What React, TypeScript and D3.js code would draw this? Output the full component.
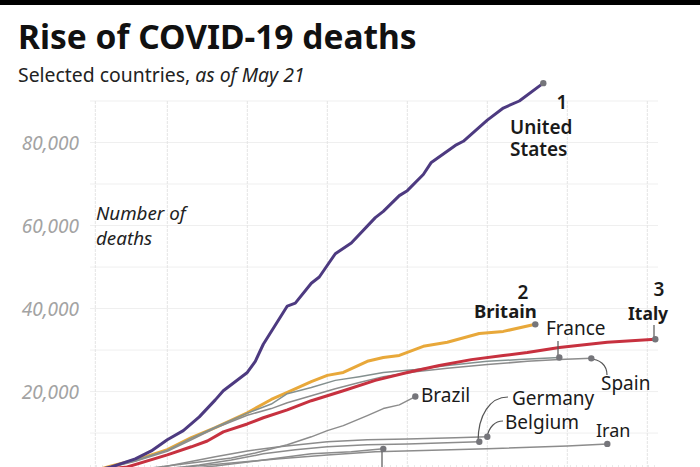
import * as d3 from "d3";

const WIDTH = 700;
const HEIGHT = 467;

// x is days since the 1000th death (reference is cropped before the axis labels)
const xTicks = [1, 10, 20, 30, 40, 50, 60, 70];
const yTicks = [10000, 20000, 30000, 40000, 50000, 60000, 70000, 80000, 90000];
const yTickLabels = [20000, 40000, 60000, 80000];

const usDays = [1, 3, 6, 8, 10, 12, 14, 16, 17, 20, 21, 22, 25, 26, 28, 29, 31, 33, 36, 37, 39, 40, 42, 43, 46, 47, 50, 52, 54, 57];
const usDeaths = [1000, 1840, 3780, 5700, 8400, 10600, 13900, 18000, 20200, 24600, 27300, 31400, 40600, 41300, 46100, 47600, 53200, 55800, 61900, 63400, 67200, 68400, 72300, 75200, 79300, 80300, 85400, 88300, 90000, 94300];

const britainDays = [1, 3, 6, 10, 13, 16, 20, 23, 25, 28, 30, 32, 35, 37, 39, 42, 45, 49, 52, 56];
const britainDeaths = [1000, 2080, 3500, 6000, 8900, 11300, 14900, 18100, 19800, 22400, 23900, 24600, 27300, 28200, 28700, 30900, 31900, 34000, 34500, 36200];

const italyDays = [1, 5, 10, 13, 15, 17, 20, 22, 25, 28, 32, 36, 40, 44, 48, 52, 55, 59, 65, 71];
const italyDeaths = [1000, 1840, 4750, 6700, 8100, 10300, 12200, 13700, 15600, 17800, 20200, 22700, 24600, 26300, 27700, 28700, 29400, 30600, 31900, 32600];

const franceDays = [1, 3, 6, 10, 13, 16, 20, 23, 25, 28, 31, 34, 37, 41, 45, 50, 54, 59];
const franceDeaths = [1000, 2000, 3400, 5900, 8800, 11400, 14800, 17000, 19500, 21000, 22700, 23600, 24600, 25300, 26300, 27300, 27700, 28200];

const spainDays = [1, 3, 6, 10, 13, 16, 20, 23, 25, 28, 31, 34, 37, 41, 45, 50, 55, 59, 63];
const spainDeaths = [1000, 1800, 3200, 5600, 8400, 11200, 14300, 15900, 17300, 19000, 20700, 22200, 23600, 24800, 25600, 26500, 27300, 27700, 28000];

const brazilDays = [1, 8, 13, 18, 21, 25, 28, 30, 32, 35, 37, 39, 41];
const brazilDeaths = [1000, 1600, 2800, 4000, 5200, 7200, 9100, 10600, 11800, 14200, 15900, 16800, 18800];

const belgiumDays = [1, 8, 12, 16, 20, 24, 30, 35, 40, 46, 50];
const belgiumDeaths = [1000, 1300, 2800, 4300, 5700, 6700, 7900, 8400, 8600, 8900, 9100];

const germanyDays = [1, 10, 14, 18, 22, 26, 30, 35, 40, 45, 49];
const germanyDeaths = [1000, 1400, 2300, 3500, 5000, 6000, 6700, 7200, 7400, 7700, 7900];

const otherDays = [1, 11, 16, 22, 28, 33, 37];
const otherDeaths = [1000, 1100, 2100, 3500, 5000, 5500, 6200];

const iranDays = [1, 6, 12, 18, 24, 30, 36, 42, 50, 60, 65];
const iranDeaths = [1000, 1100, 1800, 2800, 3800, 4700, 5500, 5800, 6200, 6900, 7400];

const GREY_LINE = "#8c8c8c";
const DOT = "#75757a";

const font = "'Noto Sans', sans-serif";

const xScale = d3.scaleLinear().domain([10, 70]).range([167.3, 647.3]);
const yScale = d3.scaleLinear().domain([0, 90000]).range([474.6, 101]);

const lineGen = d3
  .line<[number, number]>()
  .x((d) => xScale(d[0]))
  .y((d) => yScale(d[1]));

const zipped = (days: number[], deaths: number[]) =>
  days.map((d, i) => [d, deaths[i]] as [number, number]);

const series = [
  { name: "Britain", days: britainDays, deaths: britainDeaths, color: "#e8a83a", w: 3 },
  { name: "Iran", days: iranDays, deaths: iranDeaths, color: GREY_LINE, w: 1.5 },
  { name: "Other", days: otherDays, deaths: otherDeaths, color: GREY_LINE, w: 1.5 },
  { name: "Germany", days: germanyDays, deaths: germanyDeaths, color: GREY_LINE, w: 1.5 },
  { name: "Belgium", days: belgiumDays, deaths: belgiumDeaths, color: GREY_LINE, w: 1.5 },
  { name: "Brazil", days: brazilDays, deaths: brazilDeaths, color: GREY_LINE, w: 1.5 },
  { name: "Spain", days: spainDays, deaths: spainDeaths, color: GREY_LINE, w: 1.5 },
  { name: "France", days: franceDays, deaths: franceDeaths, color: "#84908f", w: 1.5 },
  { name: "Italy", days: italyDays, deaths: italyDeaths, color: "#c7313f", w: 3 },
  { name: "United States", days: usDays, deaths: usDeaths, color: "#4d3a80", w: 3 },
];

// leader lines from the end dots to the labels
const leaders = [
  "M558,358 V341",
  "M654,340 V325",
  "M589,359 C600,359 607,365 607,375",
  "M478,442 C478,415 490,397 508,397",
  "M487,437 C489,427 495,421 503,421",
  "M382,449 V467",
];

const labels: { text: string; x: number; y: number; size?: number; weight?: number; anchor?: string }[] = [
  { text: "1", x: 562, y: 109, weight: 600, anchor: "middle" },
  { text: "United", x: 510, y: 134, weight: 600 },
  { text: "States", x: 510, y: 156, weight: 600 },
  { text: "2", x: 523, y: 299, weight: 600, anchor: "middle" },
  { text: "Britain", x: 474, y: 318, size: 18.5, weight: 700 },
  { text: "3", x: 659, y: 296, weight: 600, anchor: "middle" },
  { text: "Italy", x: 628, y: 320, size: 17.5, weight: 700 },
  { text: "France", x: 546, y: 335 },
  { text: "Spain", x: 601, y: 390 },
  { text: "Brazil", x: 421, y: 402 },
  { text: "Germany", x: 512, y: 405 },
  { text: "Belgium", x: 505, y: 429 },
  { text: "Iran", x: 596, y: 437, size: 18 },
];

export default function App() {
  return (
    <svg
      width={WIDTH}
      height={HEIGHT}
      style={{ position: "absolute", left: 0, top: 0, display: "block", background: "#fff" }}
      fontFamily={font}
    >
      <rect x={0} y={0} width={WIDTH} height={5} fill="#000" />

      <text x={18} y={49} fontSize={33.5} fontWeight={700} fill="#111">
        Rise of COVID-19 deaths
      </text>
      <text x={18} y={82} fontSize={19.4} fill="#222">
        Selected countries, <tspan fontStyle="italic">as of May 21</tspan>
      </text>

      {yTicks.map((t) => (
        <line key={t} x1={90} x2={658} y1={yScale(t)} y2={yScale(t)} stroke="#efefef" strokeWidth={1} />
      ))}
      {xTicks.map((t) => (
        <line
          key={t}
          x1={xScale(t)}
          x2={xScale(t)}
          y1={101}
          y2={HEIGHT}
          stroke="#e4e4e4"
          strokeWidth={1}
          strokeDasharray="3 1"
        />
      ))}
      <line x1={90} x2={658} y1={466} y2={466} stroke="#d4d4d4" strokeWidth={1} strokeDasharray="1 5" />

      {yTickLabels.map((t) => (
        <text
          key={t}
          x={79}
          y={yScale(t) + 7}
          textAnchor="end"
          fontSize={19}
          fontStyle="italic"
          fill="#a3a3a3"
        >
          {d3.format(",")(t)}
        </text>
      ))}

      <text x={96} y={220} fontSize={18.8} fontStyle="italic" fill="#222">
        Number of
      </text>
      <text x={96} y={245} fontSize={18.8} fontStyle="italic" fill="#222">
        deaths
      </text>

      {series.map((s) => (
        <path
          key={s.name}
          d={lineGen(zipped(s.days, s.deaths)) ?? ""}
          fill="none"
          stroke={s.color}
          strokeWidth={s.w}
          strokeLinejoin="round"
        />
      ))}

      {leaders.map((d) => (
        <path key={d} d={d} fill="none" stroke="#555" strokeWidth={1.2} />
      ))}

      {series.map((s) => (
        <circle
          key={s.name}
          cx={xScale(s.days[s.days.length - 1])}
          cy={yScale(s.deaths[s.deaths.length - 1])}
          r={3.2}
          fill={DOT}
        />
      ))}

      {labels.map((l) => (
        <text
          key={l.text}
          x={l.x}
          y={l.y}
          fontSize={l.size ?? 19}
          fontWeight={l.weight ?? 400}
          textAnchor={l.anchor ?? "start"}
          fill="#1a1a1a"
        >
          {l.text}
        </text>
      ))}
    </svg>
  );
}
